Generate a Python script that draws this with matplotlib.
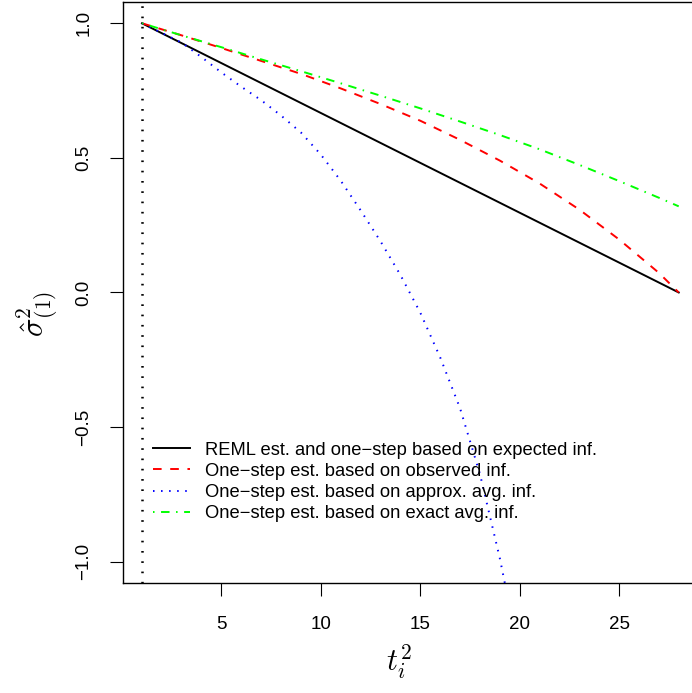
import matplotlib
matplotlib.use("Agg")
import matplotlib.pyplot as plt

plt.rcParams['font.family'] = ['Liberation Sans', 'DejaVu Sans']
plt.rcParams['mathtext.fontset'] = 'cm'
plt.rcParams['lines.scale_dashes'] = False

# REML / expected information: straight line
t_reml = [1, 28]
v_reml = [1.0, 0.0]

# one-step, observed information
t_obs = [1, 3, 5, 7, 9, 11, 13, 15, 17, 19, 21, 23, 25, 27, 28]
v_obs = [1.0, 0.955, 0.908, 0.860, 0.812, 0.758, 0.700, 0.638, 0.567,
         0.490, 0.405, 0.308, 0.197, 0.073, 0.0]

# one-step, approximate average information
t_apx = [1, 2, 3, 4, 5, 6, 7, 8, 9, 10, 11, 12, 13, 14, 15, 16, 17, 18, 19, 19.5]
v_apx = [1.0, 0.964, 0.928, 0.874, 0.817, 0.764, 0.714, 0.657, 0.594, 0.512,
         0.415, 0.305, 0.190, 0.065, -0.075, -0.241, -0.430, -0.674, -0.987, -1.17]

# one-step, exact average information
t_exa = [1, 3, 5, 7, 9, 11, 13, 15, 17, 19, 21, 23, 25, 27, 28]
v_exa = [1.0, 0.955, 0.911, 0.866, 0.822, 0.777, 0.731, 0.684, 0.635,
         0.585, 0.532, 0.474, 0.414, 0.352, 0.320]

labels = ["REML est. and one\u2212step based on expected inf.",
          "One\u2212step est. based on observed inf.",
          "One\u2212step est. based on approx. avg. inf.",
          "One\u2212step est. based on exact avg. inf."]

xticks = [5, 10, 15, 20, 25]
yticks = [-1.0, -0.5, 0.0, 0.5, 1.0]
ytick_labels = ["\u22121.0", "\u22120.5", "0.0", "0.5", "1.0"]

fig = plt.figure(figsize=(6.92, 6.93), dpi=100)
ax = fig.add_axes([0.1773, 0.1592, 0.8351, 0.8379])

lw = 1.4
ax.axvline(1, color='black', lw=1.8, dashes=(1.2, 6.2))
ax.plot(t_reml, v_reml, color='black', lw=lw, label=labels[0])
ax.plot(t_obs, v_obs, color='#ff0000', lw=lw, dashes=(6.2, 6.2), label=labels[1])
ax.plot(t_apx, v_apx, color='#0000ff', lw=lw, dashes=(1.1, 4.7), label=labels[2])
ax.plot(t_exa, v_exa, color='#00ff00', lw=lw, dashes=(1.1, 4.7, 6.1, 4.7), label=labels[3])

ax.set_xlim(0.03, 29.1)
ax.set_ylim(-1.078, 1.079)

ax.set_xticks(xticks)
ax.set_xticklabels([str(x) for x in xticks], fontsize=13.5)
ax.set_yticks(yticks)
ax.set_yticklabels(ytick_labels, fontsize=13.5, rotation=90, va='center')
ax.tick_params(direction='out', length=9.4, width=0.8)
ax.tick_params(axis='x', pad=14.5)
ax.tick_params(axis='y', pad=12.5)

for s in ax.spines.values():
    s.set_linewidth(1.0)

ax.set_xlabel(r'$t_i^2$', fontsize=22, labelpad=7, x=0.478)
ax.set_ylabel(r'$\hat{\sigma}^2_{(1)}$', fontsize=22, labelpad=11, y=0.462)

ax.legend(loc='upper left', bbox_to_anchor=(0.0524, 0.243), frameon=False,
          fontsize=13.2, handlelength=2.0, handletextpad=0.82, labelspacing=0.23,
          borderpad=0, borderaxespad=0)

fig.savefig('out.png', dpi=100)
